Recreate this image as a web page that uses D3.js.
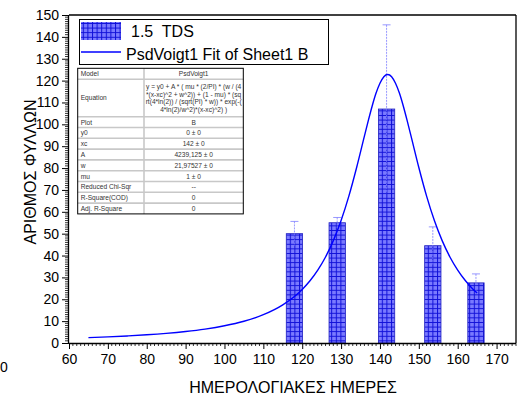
<!DOCTYPE html>
<html><head><meta charset="utf-8">
<script src="https://cdn.jsdelivr.net/npm/d3@7"></script>
<style>body{margin:0;background:#fff}svg{display:block}text{font-family:"Liberation Sans",Arial,sans-serif;white-space:pre}</style>
</head><body><svg id="c" width="518" height="398"></svg>
<script>
// ---- data ----
const barDays = [118, 129, 141.7, 153.6, 164.7];
const barValues = [50, 55, 107, 44.5, 27.5];
const barErrors = [5.6, 2.4, 38.5, 8.6, 4.1];
const barWidthDays = 4.2;
const fitX = [65,70,75,80,85,90,95,100,105,110,115,118,120,122,124,126,128,130,132,134,136,137,138,139,140,141,142,143,144,145,146,147,148,150,152,154,156,158,160,162,164,165];
const fitY = [2.45,2.79,3.22,3.74,4.40,5.25,6.36,7.87,9.95,12.95,17.45,21.28,24.52,28.47,33.34,39.35,46.81,56.0,67.16,80.25,94.58,101.7,108.4,114.3,118.8,121.8,122.8,121.8,118.8,114.3,108.4,101.7,94.58,80.25,67.16,56.0,46.81,39.35,33.34,28.47,24.52,22.82];
const xTicks = [60,70,80,90,100,110,120,130,140,150,160,170];
const yTicks = [0,10,20,30,40,50,60,70,80,90,100,110,120,130,140,150];
const legendLabels = ["1.5  TDS", "PsdVoigt1 Fit of Sheet1 B"];
const tableRows = [
  ["Model", ["PsdVoigt1"]],
  ["Equation", ["y = y0 + A * ( mu * (2/PI) * (w / (4","*(x-xc)^2 + w^2)) + (1 - mu) * (sq","rt(4*ln(2)) / (sqrt(PI) * w)) * exp(-(","4*ln(2)/w^2)*(x-xc)^2) )"]],
  ["Plot", ["B"]],
  ["y0", ["0 ± 0"]],
  ["xc", ["142 ± 0"]],
  ["A", ["4239,125 ± 0"]],
  ["w", ["21,97527 ± 0"]],
  ["mu", ["1 ± 0"]],
  ["Reduced Chi-Sqr", ["--"]],
  ["R-Square(COD)", ["0"]],
  ["Adj. R-Square", ["0"]]
];
const xTitle = "ΗΜΕΡΟΛΟΓΙΑΚΕΣ ΗΜΕΡΕΣ";
const yTitle = "ΑΡΙΘΜΟΣ ΦΥΛΛΩΝ";

// ---- layout ----
const svg = d3.select("#c");
const L = 69, R = 516, T = 15, B = 343;
const x = d3.scaleLinear().domain([60,175]).range([L,R]);
const y = d3.scaleLinear().domain([0,150]).range([B,T]);

const defs = svg.append("defs");
const pat = defs.append("pattern").attr("id","grid").attr("patternUnits","userSpaceOnUse")
  .attr("width",4.6).attr("height",4.6);
pat.append("rect").attr("width",4.6).attr("height",4.6).attr("fill","#7a7aff");
pat.append("path").attr("d","M0,0.5H4.6M0.5,0V4.6").attr("stroke","#1010d8").attr("stroke-width",1);

// bars
const bw = x(60+barWidthDays)-x(60);
svg.append("g").selectAll("rect").data(barDays).join("rect")
  .attr("x",(d)=>x(d)-bw/2).attr("width",bw)
  .attr("y",(d,i)=>y(barValues[i])).attr("height",(d,i)=>y(0)-y(barValues[i]))
  .attr("fill","url(#grid)").attr("stroke","#2020c0").attr("stroke-width",0.8);

// error bars
const eg = svg.append("g").attr("stroke","#7f7fff").attr("stroke-width",0.8);
barDays.forEach((d,i)=>{
  const cx = x(d), top = y(barValues[i]+barErrors[i]), bot = y(barValues[i]-barErrors[i]);
  eg.append("line").attr("x1",cx).attr("x2",cx).attr("y1",top).attr("y2",bot).attr("stroke-dasharray","2,1");
  eg.append("line").attr("x1",cx-4).attr("x2",cx+4).attr("y1",top).attr("y2",top);
});

// fit curve
const line = d3.line().x((d,i)=>x(fitX[i])).y(d=>y(d)).curve(d3.curveMonotoneX);
svg.append("path").datum(fitY).attr("d",line).attr("fill","none").attr("stroke","#0000ff").attr("stroke-width",1.4);

// frame
svg.append("line").attr("x1",L).attr("x2",R).attr("y1",T).attr("y2",T).attr("stroke","#000").attr("stroke-width",1.3);
svg.append("line").attr("x1",R).attr("x2",R).attr("y1",T).attr("y2",B).attr("stroke","#000").attr("stroke-width",1.3);

// axes
const xAx = d3.axisBottom(x).tickValues(xTicks).tickSize(6).tickPadding(5).tickFormat(d3.format("d"));
const gx = svg.append("g").attr("transform",`translate(0,${B})`).call(xAx);
gx.select(".domain").attr("d",`M${L},0.5H${R}`).attr("stroke-width",1.3);
const xMinor = d3.range(60,176,1).filter(v=>v%10!==0);
gx.selectAll(".mn").data(xMinor).join("line").attr("class","mn")
  .attr("x1",d=>x(d)).attr("x2",d=>x(d)).attr("y1",0).attr("y2",3).attr("stroke","#000").attr("stroke-width",0.8);

const yAx = d3.axisLeft(y).tickValues(yTicks).tickSize(7).tickPadding(3).tickFormat(d3.format("d"));
const gy = svg.append("g").attr("transform",`translate(${L},0)`).call(yAx);
gy.select(".domain").attr("d",`M-0.5,${B}V${T}`).attr("stroke-width",1.3);
const yMinor = d3.range(0,151,1).filter(v=>v%10!==0);
gy.selectAll(".mn").data(yMinor).join("line").attr("class","mn")
  .attr("x1",-4).attr("x2",0).attr("y1",d=>y(d)).attr("y2",d=>y(d)).attr("stroke","#000").attr("stroke-width",0.8);
[gx,gy].forEach(g=>{g.selectAll(".tick text").attr("font-size",14).attr("fill","#000").attr("font-family","Liberation Sans, Arial, sans-serif");
  g.selectAll(".tick line").attr("stroke-width",1);});

// titles
svg.append("text").attr("x",293).attr("y",393).attr("text-anchor","middle").attr("font-size",16).text(xTitle);
svg.append("text").attr("transform","translate(36,172) rotate(-90)").attr("text-anchor","middle").attr("font-size",16).text(yTitle);
svg.append("text").attr("x",4).attr("y",372).attr("text-anchor","middle").attr("font-size",14).text("0");

// legend
const lg = svg.append("g");
lg.append("rect").attr("x",79.5).attr("y",19.5).attr("width",249).attr("height",45).attr("fill","#fff").attr("stroke","#000").attr("stroke-width",1);
lg.append("rect").attr("x",81).attr("y",22).attr("width",40).attr("height",18).attr("fill","url(#grid)");
lg.append("text").attr("x",131).attr("y",37).attr("font-size",16).attr("xml:space","preserve").text(legendLabels[0]);
lg.append("line").attr("x1",81).attr("x2",121).attr("y1",52).attr("y2",52).attr("stroke","#0000ff").attr("stroke-width",1.4);
lg.append("text").attr("x",126).attr("y",60).attr("font-size",16).text(legendLabels[1]);

// table
const tx0 = 77.7, tx1 = 243.3, tDiv = 144, ty0 = 68.3;
const rowH = tableRows.map(r=> r[1].length>1 ? 37.4 : (r[0]==="Model"?11:10.8));
const tg = svg.append("g");
tg.append("rect").attr("x",tx0).attr("y",ty0).attr("width",tx1-tx0).attr("height",d3.sum(rowH)).attr("fill","#fff");
let yy = ty0;
tableRows.forEach((r,i)=>{
  const h = rowH[i];
  if(i>0) tg.append("line").attr("x1",tx0).attr("x2",tx1).attr("y1",yy).attr("y2",yy).attr("stroke","#c8c8c8").attr("stroke-width",1.6);
  tg.append("text").attr("x",tx0+3).attr("y",yy+h/2+2.4).attr("font-size",6.6).attr("fill","#333").text(r[0]);
  const n = r[1].length, lh = 7.6;
  r[1].forEach((s,j)=>{
    tg.append("text").attr("x",(tDiv+tx1)/2).attr("y",yy+h/2-(n-1)*lh/2+j*lh+2.4).attr("text-anchor","middle")
      .attr("font-size",6.6).attr("fill","#333").text(s);
  });
  yy += h;
});
tg.append("line").attr("x1",tDiv).attr("x2",tDiv).attr("y1",ty0).attr("y2",yy).attr("stroke","#c8c8c8").attr("stroke-width",1.6);
tg.append("rect").attr("x",tx0).attr("y",ty0).attr("width",tx1-tx0).attr("height",yy-ty0).attr("fill","none").attr("stroke","#000").attr("stroke-width",1);
</script></body></html>
